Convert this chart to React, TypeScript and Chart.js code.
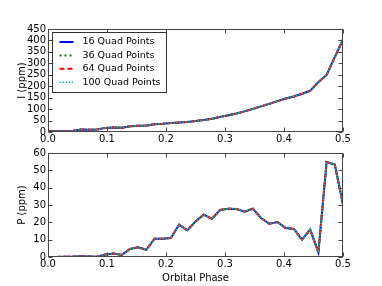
import React, { useEffect, useRef } from "react";
import { Chart, registerables } from "chart.js";

Chart.register(...registerables);

const phase = [
  0, 0.0139, 0.0278, 0.0417, 0.0556, 0.0694, 0.0833, 0.0972, 0.1111, 0.125,
  0.1389, 0.1528, 0.1667, 0.1806, 0.1944, 0.2083, 0.2222, 0.2361, 0.25, 0.2639,
  0.2778, 0.2917, 0.3056, 0.3194, 0.3333, 0.3472, 0.3611, 0.375, 0.3889, 0.4028,
  0.4167, 0.4306, 0.4444, 0.4583, 0.4722, 0.4861, 0.5,
];

const intensity = [
  4, 3, 3, 4, 11, 10, 11, 18, 20, 19, 25, 27, 28, 34, 36, 39, 42, 44, 48, 52,
  58, 66, 73, 81, 90, 101, 112, 123, 135, 146, 155, 167, 180, 218, 249, 327, 405,
];

const polarization = [
  0.05, 0.05, 0.1, 0.1, 0.5, 0.3, 0.1, 1.5, 2.0, 1.2, 4.6, 5.6, 4.2, 10.6, 10.6,
  11.0, 18.7, 15.4, 20.5, 24.4, 22.1, 27.1, 27.9, 27.7, 26.2, 27.9, 22.5, 19.2,
  20.2, 16.7, 16.2, 10.0, 15.8, 2.7, 54.8, 53.3, 30.2,
];

const seriesLabels = ["16 Quad Points", "36 Quad Points", "64 Quad Points", "100 Quad Points"];
const seriesColors = ["#0000ff", "#008000", "#ff0000", "#00bfbf"];
const seriesDash: number[][] = [[], [2, 3], [5, 3], [1.5, 1.5]];
const seriesWidth = [2, 2, 2, 1.5];

const xTicks = [0, 0.1, 0.2, 0.3, 0.4, 0.5];
const iTicks = [0, 50, 100, 150, 200, 250, 300, 350, 400, 450];
const pTicks = [0, 10, 20, 30, 40, 50, 60];

const FONT = "DejaVu Sans";

function makeDatasets(values: number[]) {
  return seriesLabels.map((label, k) => ({
    label,
    data: phase.map((x, i) => ({ x, y: values[i] })),
    borderColor: seriesColors[k],
    backgroundColor: seriesColors[k],
    borderDash: seriesDash[k],
    borderWidth: seriesWidth[k],
    pointRadius: 0,
    tension: 0,
    fill: false,
    order: 4 - k,
  }));
}

const framePlugin = {
  id: "frame",
  afterDatasetsDraw(chart: any) {
    const { ctx, chartArea, scales } = chart;
    const l = Math.round(chartArea.left) + 0.5;
    const r = Math.round(chartArea.right) - 0.5;
    const t = Math.round(chartArea.top) + 0.5;
    const b = Math.round(chartArea.bottom) - 0.5;
    ctx.save();
    ctx.strokeStyle = "#444";
    ctx.lineWidth = 1;
    ctx.setLineDash([]);
    ctx.beginPath();
    const tl = 4;
    scales.x.ticks.forEach((tk: any) => {
      const px = Math.round(scales.x.getPixelForValue(tk.value)) + 0.5;
      ctx.moveTo(px, b);
      ctx.lineTo(px, b - tl);
      ctx.moveTo(px, t);
      ctx.lineTo(px, t + tl);
    });
    scales.y.ticks.forEach((tk: any) => {
      const py = Math.round(scales.y.getPixelForValue(tk.value)) + 0.5;
      ctx.moveTo(l, py);
      ctx.lineTo(l + tl, py);
      ctx.moveTo(r, py);
      ctx.lineTo(r - tl, py);
    });
    ctx.stroke();
    ctx.strokeRect(l, t, r - l, b - t);
    ctx.restore();
  },
};

const legendPlugin = {
  id: "boxLegend",
  afterDraw(chart: any, _args: any, opts: any) {
    if (!opts || !opts.show) return;
    const { ctx, chartArea } = chart;
    const x0 = Math.round(chartArea.left) + 4.5;
    const y0 = Math.round(chartArea.top) + 3.5;
    const w = 114;
    const h = 60;
    ctx.save();
    ctx.fillStyle = "#fff";
    ctx.fillRect(x0, y0, w, h);
    ctx.strokeStyle = "#333";
    ctx.lineWidth = 1;
    ctx.strokeRect(x0, y0, w, h);
    ctx.font = `9.5px '${FONT}'`;
    ctx.textBaseline = "middle";
    ctx.textAlign = "left";
    chart.data.datasets.forEach((ds: any, i: number) => {
      const cy = y0 + 9.5 + i * 13.4;
      ctx.strokeStyle = ds.borderColor;
      ctx.lineWidth = ds.borderWidth;
      ctx.setLineDash(ds.borderDash || []);
      ctx.beginPath();
      ctx.moveTo(x0 + 7, cy);
      ctx.lineTo(x0 + 21, cy);
      ctx.stroke();
      ctx.setLineDash([]);
      ctx.fillStyle = "#000";
      ctx.fillText(ds.label, x0 + 30, cy);
    });
    ctx.restore();
  },
};

function makeOptions(opts: {
  yMax: number;
  yTicks: number[];
  yTitle: string;
  xTitle: string | null;
  padTop: number;
  xHeight: number;
  legend: boolean;
}) {
  return {
    animation: false,
    responsive: false,
    maintainAspectRatio: false,
    layout: { padding: { top: opts.padTop, left: 12, right: 39, bottom: 0 } },
    plugins: {
      legend: { display: false },
      tooltip: { enabled: false },
      boxLegend: { show: opts.legend },
    },
    scales: {
      x: {
        type: "linear",
        min: 0,
        max: 0.5,
        afterBuildTicks(scale: any) {
          scale.ticks = xTicks.map((v) => ({ value: v }));
        },
        afterFit(scale: any) {
          scale.height = opts.xHeight;
        },
        grid: { display: false, drawTicks: false },
        border: { display: false },
        ticks: {
          autoSkip: false,
          padding: 1,
          color: "#000",
          font: { family: FONT, size: 10 },
          maxRotation: 0,
          callback: (v: number) => v.toFixed(1),
        },
        title: opts.xTitle
          ? {
              display: true,
              text: opts.xTitle,
              color: "#000",
              font: { family: FONT, size: 10 },
              padding: { top: 0, bottom: 2 },
            }
          : { display: false },
      },
      y: {
        type: "linear",
        min: 0,
        max: opts.yMax,
        afterBuildTicks(scale: any) {
          scale.ticks = opts.yTicks.map((v) => ({ value: v }));
        },
        afterFit(scale: any) {
          scale.width = 36;
        },
        grid: { display: false, drawTicks: false },
        border: { display: false },
        ticks: {
          autoSkip: false,
          padding: 2,
          color: "#000",
          font: { family: FONT, size: 10 },
          callback: (v: number) => String(v),
        },
        title: {
          display: true,
          text: opts.yTitle,
          color: "#000",
          font: { family: FONT, size: 10 },
          padding: { top: 4, bottom: 0 },
        },
      },
    },
  };
}

function Panel(props: {
  values: number[];
  top: number;
  height: number;
  options: any;
}) {
  const ref = useRef<HTMLCanvasElement | null>(null);
  useEffect(() => {
    if (!ref.current) return;
    const chart = new Chart(ref.current, {
      type: "line",
      data: { datasets: makeDatasets(props.values) as any },
      options: props.options,
      plugins: [framePlugin, legendPlugin],
    } as any);
    return () => chart.destroy();
  }, []);
  return (
    <canvas
      ref={ref}
      width={382}
      height={props.height}
      style={{
        position: "absolute",
        left: 0,
        top: props.top,
        width: 382,
        height: props.height,
      }}
    />
  );
}

export default function App() {
  Chart.defaults.font.family = FONT;
  const topOpts = makeOptions({
    yMax: 450,
    yTicks: iTicks,
    yTitle: "I (ppm)",
    xTitle: null,
    padTop: 29,
    xHeight: 15,
    legend: true,
  });
  const botOpts = makeOptions({
    yMax: 60,
    yTicks: pTicks,
    yTitle: "P (ppm)",
    xTitle: "Orbital Phase",
    padTop: 10,
    xHeight: 29,
    legend: false,
  });
  return (
    <div
      style={{
        position: "fixed",
        left: 0,
        top: 0,
        width: 382,
        height: 286,
        background: "#fff",
        overflow: "hidden",
      }}
    >
      <Panel values={intensity} top={0} height={147} options={topOpts} />
      <Panel values={polarization} top={143} height={143} options={botOpts} />
    </div>
  );
}
